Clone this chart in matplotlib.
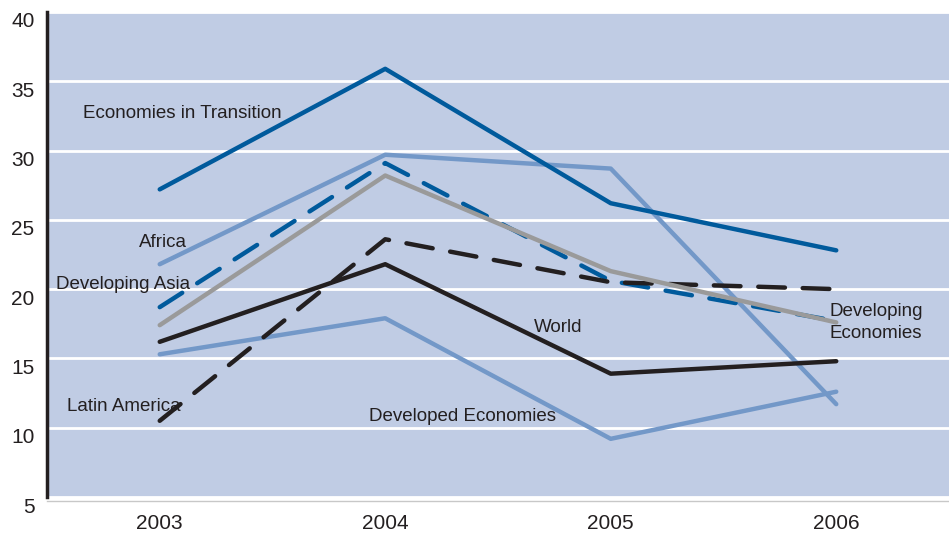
import matplotlib.pyplot as plt
import matplotlib.transforms as mtransforms

plt.rcParams['font.family'] = ['Liberation Sans', 'DejaVu Sans']

years = [2003, 2004, 2005, 2006]

transition = [27.2, 35.9, 26.2, 22.8]
africa = [21.8, 29.7, 28.7, 11.7]
dev_asia = [18.7, 29.1, 20.6, 17.7]
dev_economies = [17.4, 28.2, 21.3, 17.6]
latin_america = [10.5, 23.6, 20.5, 20.0]
world = [16.2, 21.8, 13.9, 14.8]
developed = [15.3, 17.9, 9.2, 12.6]

dark_blue = '#005a9c'
light_blue = '#7398c8'
grey = '#9a9a9a'
black = '#231f20'

fig = plt.figure(figsize=(9.49, 5.33), dpi=100)
ax = fig.add_axes([0.0495, 0.0675, 0.9505, 0.91])
ax.set_facecolor('#c0cce4')

ax.set_xlim(2002.5, 2006.5)
ax.set_ylim(5, 40)
ax.set_yticks(range(5, 41, 5))
ax.set_xticks(years)
ax.grid(axis='y', color='white', lw=2)
ax.set_axisbelow(True)
ax.tick_params(length=0, labelsize=15, colors=black)
ax.tick_params(axis='x', pad=9)
ax.tick_params(axis='y', pad=9)

# y labels sit a little under their grid lines
shift = mtransforms.ScaledTranslation(0, -8 / 100, fig.dpi_scale_trans)
for lbl in ax.get_yticklabels():
    lbl.set_transform(lbl.get_transform() + shift)

for s in ['top', 'right']:
    ax.spines[s].set_visible(False)
ax.spines['left'].set_color(black)
ax.spines['left'].set_linewidth(2.5)
ax.spines['bottom'].set_color('#c8c8c8')
ax.spines['bottom'].set_linewidth(1)
ax.spines['bottom'].set_position(('outward', 3))

lw = 3.2
ax.plot(years, developed, color=light_blue, lw=lw, solid_capstyle='round')
ax.plot(years, africa, color=light_blue, lw=lw, solid_capstyle='round')
ax.plot(years, transition, color=dark_blue, lw=lw, solid_capstyle='round')
ax.plot(years, dev_asia, color=dark_blue, lw=lw, ls=(0, (6, 4)), dash_capstyle='round')
ax.plot(years, latin_america, color=black, lw=lw, ls=(0, (6, 4)), dash_capstyle='round')
ax.plot(years, dev_economies, color=grey, lw=lw, solid_capstyle='round')
ax.plot(years, world, color=black, lw=lw, solid_capstyle='round')

lab = dict(fontsize=13.5, color=black, va='center', ha='left')
ax.text(2002.66, 32.7, 'Economies in Transition', **lab)
ax.text(2002.91, 23.4, 'Africa', **lab)
ax.text(2002.54, 20.3, 'Developing Asia', **lab)
ax.text(2004.66, 17.2, 'World', **lab)
ax.text(2005.97, 17.6, 'Developing\nEconomies', linespacing=1.35, **lab)
ax.text(2002.59, 11.5, 'Latin America', **lab)
ax.text(2003.93, 10.8, 'Developed Economies', **lab)

fig.savefig('out.png', dpi=100)
